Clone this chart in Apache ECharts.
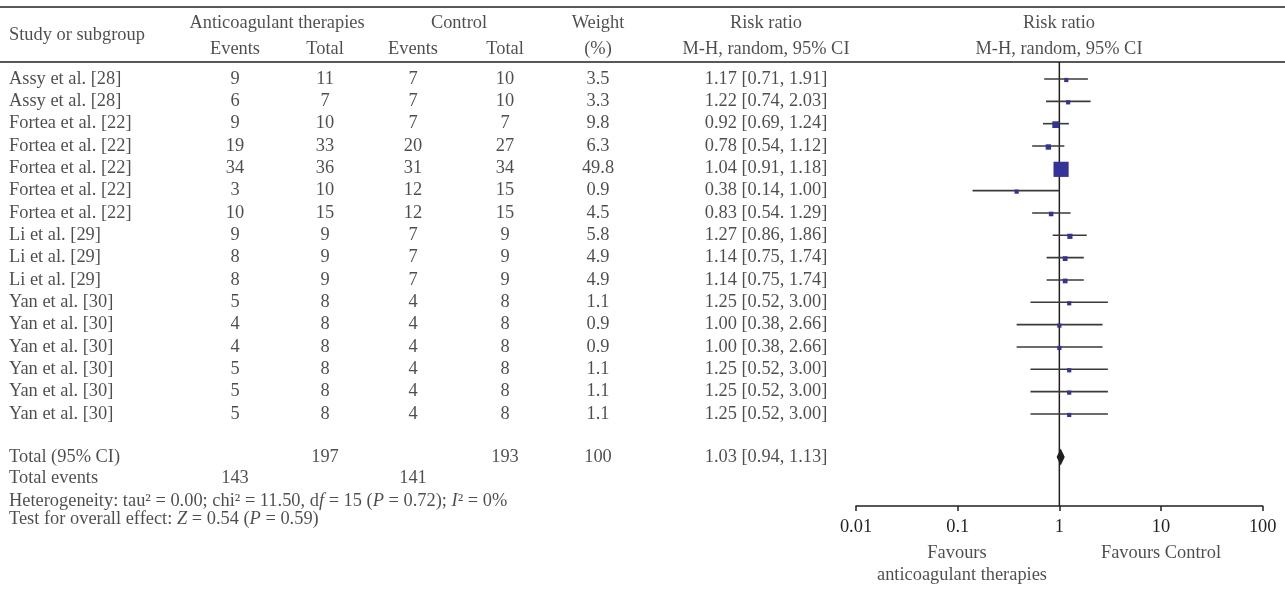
<!DOCTYPE html>
<html>
<head>
<meta charset="utf-8">
<script src="https://cdn.jsdelivr.net/npm/echarts@6/dist/echarts.min.js"></script>
<style>html,body{margin:0;padding:0;background:#fff;}#c{width:1285px;height:590px;}</style>
</head>
<body>
<div id="c"></div>
<script>
// ---------------- data ----------------
const studies = ["Assy et al. [28]","Assy et al. [28]","Fortea et al. [22]","Fortea et al. [22]","Fortea et al. [22]","Fortea et al. [22]","Fortea et al. [22]","Li et al. [29]","Li et al. [29]","Li et al. [29]","Yan et al. [30]","Yan et al. [30]","Yan et al. [30]","Yan et al. [30]","Yan et al. [30]","Yan et al. [30]"];
const expEvents  = [9,6,9,19,34,3,10,9,8,8,5,4,4,5,5,5];
const expTotal   = [11,7,10,33,36,10,15,9,9,9,8,8,8,8,8,8];
const ctrlEvents = [7,7,7,20,31,12,12,7,7,7,4,4,4,4,4,4];
const ctrlTotal  = [10,10,7,27,34,15,15,9,9,9,8,8,8,8,8,8];
const weights    = ["3.5","3.3","9.8","6.3","49.8","0.9","4.5","5.8","4.9","4.9","1.1","0.9","0.9","1.1","1.1","1.1"];
const rr   = [1.17,1.22,0.92,0.78,1.04,0.38,0.83,1.27,1.14,1.14,1.25,1.00,1.00,1.25,1.25,1.25];
const ciLo = [0.71,0.74,0.69,0.54,0.91,0.14,0.54,0.86,0.75,0.75,0.52,0.38,0.38,0.52,0.52,0.52];
const ciHi = [1.91,2.03,1.24,1.12,1.18,1.00,1.29,1.86,1.74,1.74,3.00,2.66,2.66,3.00,3.00,3.00];
const ciText = ["1.17 [0.71, 1.91]","1.22 [0.74, 2.03]","0.92 [0.69, 1.24]","0.78 [0.54, 1.12]","1.04 [0.91, 1.18]","0.38 [0.14, 1.00]","0.83 [0.54. 1.29]","1.27 [0.86, 1.86]","1.14 [0.75, 1.74]","1.14 [0.75, 1.74]","1.25 [0.52, 3.00]","1.00 [0.38, 2.66]","1.00 [0.38, 2.66]","1.25 [0.52, 3.00]","1.25 [0.52, 3.00]","1.25 [0.52, 3.00]"];
const totalExpN = 197, totalCtrlN = 193, totalWeight = "100";
const pooled = [0.94, 1.03, 1.13];
const pooledText = "1.03 [0.94, 1.13]";
const totalExpEvents = 143, totalCtrlEvents = 141;
const xTicks = ["0.01","0.1","1","10","100"];
const heteroText = "Heterogeneity: tau\u00b2 = 0.00; chi\u00b2 = 11.50, d{i|f} = 15 ({i|P} = 0.72); {i|I}\u00b2 = 0%";
const overallText = "Test for overall effect: {i|Z} = 0.54 ({i|P} = 0.59)";

// ---------------- layout ----------------
const FONT = "'Liberation Serif','DejaVu Serif',serif";
const FS = 18.4;
const TXT = '#231f20';
const SQ = '#333399';
const COL = {study:9, expE:235, expN:325, ctlE:413, ctlN:505, w:598, ci:766, plot:1059};
const ROW_H = 22.33;
const R = {h1:-2.508, h2:-1.343, hs:-1.97, total:16.93, tev:17.87, het:18.9, test:19.72, fav1:21.23, fav2:22.21};

const textData = [];
function addText(x, r, s, align){ textData.push({name:s, value:[x, r], label:{align: align||'center'}}); }
addText(COL.study, R.hs, "Study or subgroup", 'left');
addText((COL.expE+COL.expN)/2 - 3, R.h1, "Anticoagulant therapies");
addText((COL.ctlE+COL.ctlN)/2, R.h1, "Control");
addText(COL.w, R.h1, "Weight");
addText(COL.ci, R.h1, "Risk ratio");
addText(COL.plot, R.h1, "Risk ratio");
addText(COL.expE, R.h2, "Events");
addText(COL.expN, R.h2, "Total");
addText(COL.ctlE, R.h2, "Events");
addText(COL.ctlN, R.h2, "Total");
addText(COL.w, R.h2, "(%)");
addText(COL.ci, R.h2, "M-H, random, 95% CI");
addText(COL.plot, R.h2, "M-H, random, 95% CI");
studies.forEach((s, i) => {
  addText(COL.study, i, s, 'left');
  addText(COL.expE, i, String(expEvents[i]));
  addText(COL.expN, i, String(expTotal[i]));
  addText(COL.ctlE, i, String(ctrlEvents[i]));
  addText(COL.ctlN, i, String(ctrlTotal[i]));
  addText(COL.w, i, weights[i]);
  addText(COL.ci, i, ciText[i]);
});
addText(COL.study, R.total, "Total (95% CI)", 'left');
addText(COL.expN, R.total, String(totalExpN));
addText(COL.ctlN, R.total, String(totalCtrlN));
addText(COL.w, R.total, totalWeight);
addText(COL.ci, R.total, pooledText);
addText(COL.study, R.tev, "Total events", 'left');
addText(COL.expE, R.tev, String(totalExpEvents));
addText(COL.ctlE, R.tev, String(totalCtrlEvents));
addText(COL.study, R.het, heteroText, 'left');
addText(COL.study, R.test, overallText, 'left');
addText(957, R.fav1, "Favours");
addText(962, R.fav2, "anticoagulant therapies");
addText(1161, R.fav1, "Favours Control");

const forestData = studies.map((s, i) => [ciLo[i], ciHi[i], rr[i], parseFloat(weights[i]), i]);

const tableTop = 7, tableH = 583;
const tMin = -(79 - tableTop) / ROW_H;
const tMax = tMin + tableH / ROW_H;
const fTop = 62, fH = 444;
const fMin = -(79 - fTop) / ROW_H;
const fMax = fMin + fH / ROW_H;

const chart = echarts.init(document.getElementById('c'), null, {renderer:'canvas'});
chart.setOption({
  animation: false,
  backgroundColor: '#fff',
  textStyle: {fontFamily: FONT, color: TXT},
  grid: [
    {left:0, width:1285, top:tableTop, height:tableH, show:false},
    {left:856, width:406.7, top:fTop, height:fH, show:false}
  ],
  xAxis: [
    {gridIndex:0, type:'value', min:0, max:1285, show:false},
    {gridIndex:1, type:'log', logBase:10, min:0.01, max:100, splitNumber:4,
     axisLine:{show:true, onZero:false, lineStyle:{color:'#231f20', width:1.5}},
     axisTick:{show:true, length:5, inside:false, lineStyle:{color:'#231f20', width:1.5}},
     minorTick:{show:false}, splitLine:{show:false},
     axisLabel:{show:true, margin:12, fontFamily:FONT, fontSize:FS, color:TXT,
       formatter: function(v){ const e = Math.round(Math.log10(v)); return xTicks[e+2] || ''; }}}
  ],
  yAxis: [
    {gridIndex:0, type:'value', inverse:true, min:tMin, max:tMax, show:false},
    {gridIndex:1, type:'value', inverse:true, min:fMin, max:fMax, show:false}
  ],
  series: [
    {
      type:'scatter', xAxisIndex:0, yAxisIndex:0, data:textData, symbolSize:0.1,
      itemStyle:{color:'rgba(0,0,0,0)'}, clip:false, silent:true,
      label:{show:true, position:'inside', fontFamily:FONT, fontSize:FS, color:TXT,
        formatter: p => p.name,
        rich:{i:{fontStyle:'italic', fontFamily:FONT, fontSize:FS, color:TXT}}}
    },
    {
      type:'line', xAxisIndex:1, yAxisIndex:1, data:[[1, fMin],[1, fMax]], showSymbol:false,
      lineStyle:{color:'#231f20', width:1.5}, silent:true, z:1
    },
    {
      type:'custom', xAxisIndex:1, yAxisIndex:1, data:forestData, encode:{x:[0,1,2], y:4}, z:3,
      renderItem: function(params, api){
        const i = api.value(4);
        const a = api.coord([api.value(0), i]);
        const b = api.coord([api.value(1), i]);
        const c = api.coord([api.value(2), i]);
        const s = Math.max(4.2, 2.15 * Math.sqrt(api.value(3)));
        return {type:'group', children:[
          {type:'line', shape:{x1:a[0], y1:a[1], x2:b[0], y2:b[1]}, style:{stroke:'#3a3a3a', lineWidth:1.6}},
          {type:'rect', shape:{x:c[0]-s/2, y:c[1]-s/2+1, width:s, height:s}, style:{fill:SQ}}
        ]};
      }
    },
    {
      type:'custom', xAxisIndex:1, yAxisIndex:1, data:[[pooled[0], pooled[1], pooled[2], R.total]], encode:{x:[0,1,2], y:3}, z:4,
      renderItem: function(params, api){
        const y = api.value(3);
        const l = api.coord([api.value(0), y]);
        const m = api.coord([api.value(1), y]);
        const h = api.coord([api.value(2), y]);
        return {type:'polygon', shape:{points:[[l[0], l[1]],[m[0], m[1]-8.5],[h[0], h[1]],[m[0], m[1]+8.5]]}, style:{fill:'#231f20'}};
      }
    }
  ],
  graphic: [
    {type:'line', shape:{x1:0, y1:7, x2:1285, y2:7}, style:{stroke:'#231f20', lineWidth:1.5}},
    {type:'line', shape:{x1:0, y1:62, x2:1285, y2:62}, style:{stroke:'#231f20', lineWidth:1.5}}
  ]
});
</script>
</body>
</html>
